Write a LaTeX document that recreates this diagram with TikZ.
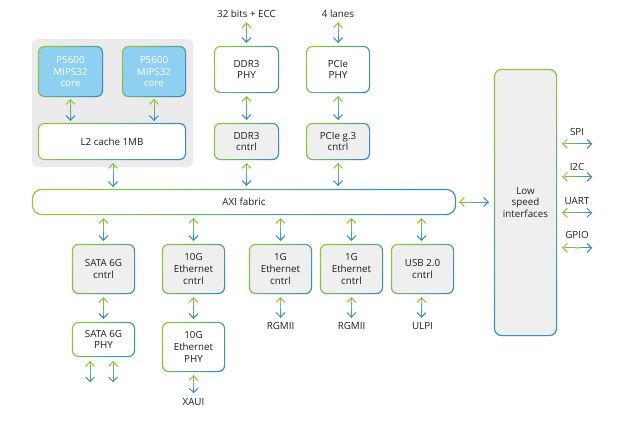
\documentclass[tikz,border=0pt]{standalone}
\usepackage{fontspec}
\setmainfont{Open Sans}
\usetikzlibrary{calc,arrows.meta}
\definecolor{G}{HTML}{8DC63F}
\definecolor{B}{HTML}{3A8DC0}
\definecolor{txt}{HTML}{1E1E1E}
\definecolor{boxgray}{HTML}{EFEFEF}
\definecolor{panelgray}{HTML}{EBEBEB}
\definecolor{corefill}{HTML}{8ED0F1}
\tikzset{
  blk/.style={inner sep=0pt, align=center, font=\fontsize{9.8}{11.7}\selectfont, text=txt, rounded corners=7pt},
  graybox/.style={blk, fill=boxgray, minimum width=63pt, minimum height=50pt},
  whitebox/.style={blk, fill=white},
  corebox/.style={blk, fill=corefill, text=white, minimum width=65pt, minimum height=51pt},
  lbl/.style={inner sep=0pt, font=\fontsize{9.8}{11.7}\selectfont, text=txt},
  tipg/.style={line width=1pt, draw=G, -{Straight Barb[length=4.5pt,width=9pt]}},
  tipb/.style={line width=1pt, draw=B, -{Straight Barb[length=4.5pt,width=9pt]}}
}
\newcommand\garr[2]{%
  \coordinate (gA) at #1;
  \coordinate (gB) at #2;
  \foreach \k in {0,...,11}{%
    \pgfmathsetmacro\ka{\k/12}%
    \pgfmathsetmacro\kb{(\k+1)/12}%
    \pgfmathtruncatemacro\pc{round(100-\k*100/11)}%
    \draw[line width=1pt, draw=G!\pc!B] ($(gA)!\ka!(gB)$) -- ($(gA)!\kb!(gB)$);
  }%
  \draw[tipg] ($(gA)!1pt!(gB)$) -- (gA);
  \draw[tipb] ($(gB)!1pt!(gA)$) -- (gB);
}
\newcommand\gring[4]{%
  \shade[top color=G, bottom color=B, shading angle=#4, even odd rule]
    [rounded corners=#2] (#1.south west) rectangle (#1.north east)
    [rounded corners=#3] ([shift={(1.2pt,1.2pt)}]#1.south west) rectangle ([shift={(-1.2pt,-1.2pt)}]#1.north east);
}
\begin{document}
\begin{tikzpicture}[x=1pt,y=-1pt]
\useasboundingbox (0,0) rectangle (620,423);
\fill[white] (0,0) rectangle (620,423);
% panel
\fill[panelgray, rounded corners=6pt] (32,39) rectangle (193,167);
% nodes
\node[corebox] (core1) at (70.5,71.5) {P5600\\MIPS32\\core};
\node[corebox, minimum width=64pt] (core2) at (154,71.5) {P5600\\MIPS32\\core};
\node[whitebox, minimum width=148pt, minimum height=37pt] (l2) at (112,141.5) {L2 cache 1MB};
\node[whitebox, minimum width=65pt, minimum height=47pt] (ddrphy) at (246.5,69.5) {DDR3\\PHY};
\node[graybox, minimum width=65pt, minimum height=37pt] (ddrc) at (246.5,141.5) {DDR3\\cntrl};
\node[whitebox, minimum width=64pt, minimum height=47pt] (pciephy) at (338,69.5) {PCIe\\PHY};
\node[graybox, minimum width=64pt, minimum height=37pt] (pciec) at (338,141.5) {PCIe g.3\\cntrl};
\node[whitebox, rounded corners=10pt, minimum width=424pt, minimum height=26pt] (axi) at (244,202) {AXI fabric};
\node[graybox, rounded corners=8pt, minimum height=267pt] (low) at (525.5,202.5) {Low\\speed\\interfaces};
\node[graybox] (satac) at (103.5,269) {SATA 6G\\cntrl};
\node[whitebox, minimum width=63pt, minimum height=35pt] (sataphy) at (103.5,339.5) {SATA 6G\\PHY};
\node[graybox] (tgc) at (193.5,269) {10G\\Ethernet\\cntrl};
\node[whitebox, minimum width=63pt, minimum height=50pt] (tgphy) at (193.5,347) {10G\\Ethernet\\PHY};
\node[graybox] (ge1) at (280.5,269) {1G\\Ethernet\\cntrl};
\node[graybox] (ge2) at (351.5,269) {1G\\Ethernet\\cntrl};
\node[graybox] (usb) at (422.5,269) {USB 2.0\\cntrl};
% gradient borders
\foreach \n in {core1,core2,l2,ddrphy,ddrc,pciephy,pciec,satac,sataphy,tgc,tgphy,ge1,ge2,usb}{\gring{\n}{7pt}{5.8pt}{60}}
\gring{axi}{10pt}{8.8pt}{60}
\gring{low}{8pt}{6.8pt}{40}
% labels
\node[lbl] (ecc) at (246.5,14) {32 bits + ECC};
\node[lbl] (lanes) at (338,14) {4 lanes};
\node[lbl] (xaui) at (193.5,402) {XAUI};
\node[lbl] (rg1) at (280.5,326) {RGMII};
\node[lbl] (rg2) at (351.5,326) {RGMII};
\node[lbl] (ulpi) at (422.5,326) {ULPI};
\node[lbl] (spi) at (577,132) {SPI};
\node[lbl] (i2c) at (577,167) {I2C};
\node[lbl] (uart) at (577,201) {UART};
\node[lbl] (gpio) at (577,235) {GPIO};
% arrows
\garr{($(core1.south)+(0,-2pt)$)}{($(l2.north -| core1.south)+(0,2pt)$)}
\garr{($(core2.south)+(0,-2pt)$)}{($(l2.north -| core2.south)+(0,2pt)$)}
\garr{($(l2.south)+(1pt,-3pt)$)}{($(axi.north -| l2.south)+(1pt,2pt)$)}
\garr{($(ecc.south)+(0,-4.5pt)$)}{($(ddrphy.north)+(0,3pt)$)}
\garr{($(lanes.south)+(0,-4.5pt)$)}{($(pciephy.north)+(0,3pt)$)}
\garr{($(ddrphy.south)+(0,-3pt)$)}{($(ddrc.north)+(0,3pt)$)}
\garr{($(pciephy.south)+(0,-3pt)$)}{($(pciec.north)+(0,3pt)$)}
\garr{($(ddrc.south)+(0,-3pt)$)}{($(axi.north -| ddrc.south)+(0,3pt)$)}
\garr{($(pciec.south)+(0,-3pt)$)}{($(axi.north -| pciec.south)+(0,3pt)$)}
\garr{($(axi.south -| satac.north)+(0,-3pt)$)}{($(satac.north)+(0,3pt)$)}
\garr{($(axi.south -| tgc.north)+(0,-3pt)$)}{($(tgc.north)+(0,3pt)$)}
\garr{($(axi.south -| ge1.north)+(0,-3pt)$)}{($(ge1.north)+(0,3pt)$)}
\garr{($(axi.south -| ge2.north)+(0,-3pt)$)}{($(ge2.north)+(0,3pt)$)}
\garr{($(axi.south -| usb.north)+(-1pt,-3pt)$)}{($(usb.north)+(-1pt,3pt)$)}
\garr{($(satac.south)+(0,-3pt)$)}{($(sataphy.north)+(0,3pt)$)}
\garr{($(tgc.south)+(0,-3pt)$)}{($(tgphy.north)+(0,3pt)$)}
\garr{($(sataphy.south)+(-13.5pt,-4pt)$)}{($(sataphy.south)+(-13.5pt,-25pt)$)}
\garr{($(sataphy.south)+(9.5pt,-4pt)$)}{($(sataphy.south)+(9.5pt,-25pt)$)}
\garr{($(tgphy.south)+(0,-3pt)$)}{($(xaui.north)+(0,5pt)$)}
\garr{($(ge1.south)+(0,-3pt)$)}{($(rg1.north)+(0,4.5pt)$)}
\garr{($(ge2.south)+(0,-3pt)$)}{($(rg2.north)+(0,4.5pt)$)}
\garr{($(usb.south)+(-1pt,-3pt)$)}{($(ulpi.north)+(-1pt,4.5pt)$)}
\garr{($(axi.east)+(3pt,0)$)}{($(low.west |- axi.east)+(-5pt,0)$)}
\garr{($(low.east |- spi.south)+(5pt,-8pt)$)}{($(low.east |- spi.south)+(35pt,-8pt)$)}
\garr{($(low.east |- i2c.south)+(5pt,-6pt)$)}{($(low.east |- i2c.south)+(35pt,-6pt)$)}
\garr{($(low.east |- uart.south)+(5pt,-8pt)$)}{($(low.east |- uart.south)+(35pt,-8pt)$)}
\garr{($(low.east |- gpio.south)+(5pt,-9pt)$)}{($(low.east |- gpio.south)+(35pt,-9pt)$)}
\end{tikzpicture}
\end{document}
